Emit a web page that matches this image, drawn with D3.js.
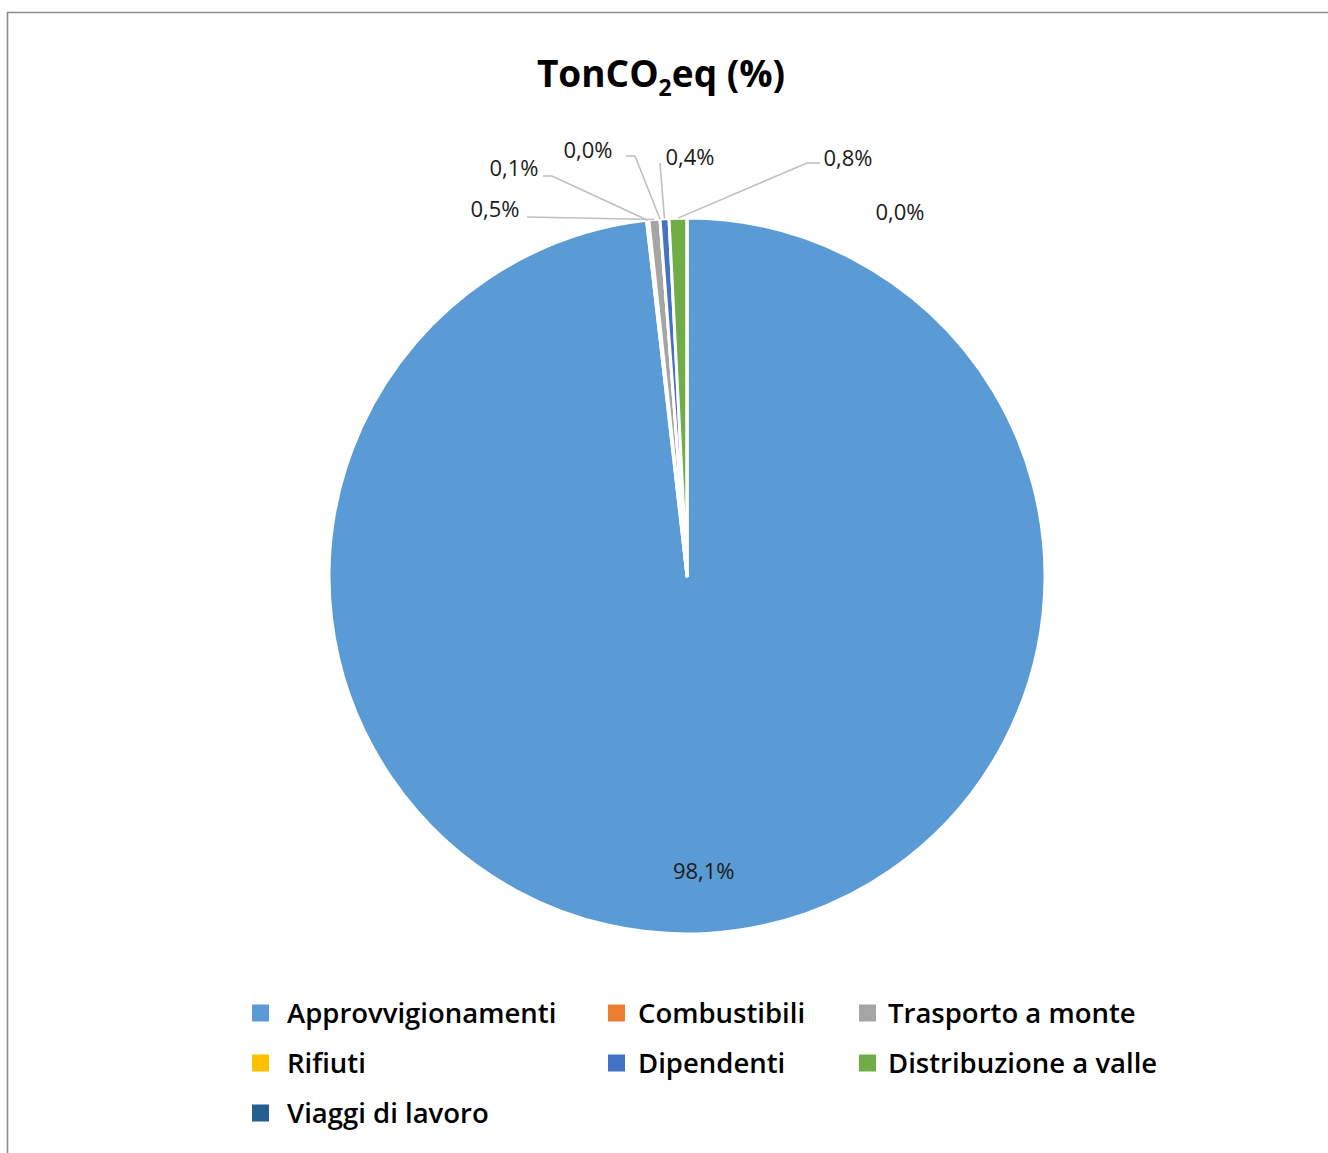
<!DOCTYPE html>
<html>
<head>
<meta charset="utf-8">
<script src="https://cdn.jsdelivr.net/npm/d3@7"></script>
<style>
  html, body { margin: 0; padding: 0; background: #fff; }
  svg { display: block; }
</style>
</head>
<body>
<svg id="chart" width="1328" height="1153"></svg>
<script>
// ---- data ----
const categories = ["Approvvigionamenti", "Combustibili", "Trasporto a monte", "Rifiuti", "Dipendenti", "Distribuzione a valle", "Viaggi di lavoro"];
const values = [98.1, 0.1, 0.5, 0.0, 0.4, 0.8, 0.0];
const colors = ["#5b9bd5", "#ed7d31", "#a5a5a5", "#ffc000", "#4472c4", "#70ad47", "#255e91"];
const titleMain = "TonCO";
const titleSub = "2";
const titleEnd = "eq (%)";

// ---- layout ----
const W = 1328, H = 1153;
const cx = 687, cy = 576, R = 358;
const svg = d3.select("#chart");
const font = "'Open Sans', 'Noto Sans', sans-serif";

// frame
svg.append("path")
  .attr("d", `M7.5,${H} L7.5,12.5 L${W},12.5`)
  .attr("fill", "none").attr("stroke", "#8c8c8c").attr("stroke-width", 1.6);

// title
const title = svg.append("text")
  .attr("x", 661).attr("y", 87)
  .attr("text-anchor", "middle")
  .attr("font-family", font).attr("font-weight", 700).attr("font-size", 37)
  .attr("fill", "#000");
title.append("tspan").text(titleMain);
title.append("tspan").text(titleSub).attr("font-size", 23).attr("dy", 9);
title.append("tspan").text(titleEnd).attr("dy", -9);

// pie
const pie = d3.pie().sort(null).value(d => d);
const arcs = pie(values);
const arc = d3.arc().innerRadius(0).outerRadius(R);
const g = svg.append("g").attr("transform", `translate(${cx},${cy})`);
g.selectAll("path.slice").data(arcs).join("path")
  .attr("class", "slice")
  .attr("d", arc)
  .attr("fill", (d, i) => colors[i])
  .attr("stroke", "#fff").attr("stroke-width", 3).attr("stroke-linejoin", "round");

const fmt = v => d3.format(".1f")(v).replace(".", ",") + "%";

// label placement (layout only): text position relative to centre and leader start/elbow
const labelLayout = {
  1: { tx: 514 - cx, ty: 176 - cy, line: [[543 - cx, 176 - cy], [552 - cx, 176 - cy]] },
  2: { tx: 495 - cx, ty: 217 - cy, line: [[527 - cx, 217 - cy], [527 - cx, 217 - cy]] },
  3: { tx: 588 - cx, ty: 158 - cy, line: [[626 - cx, 156 - cy], [635 - cx, 156 - cy]] },
  4: { tx: 690 - cx, ty: 165 - cy, line: [[660 - cx, 163 - cy], [660 - cx, 163 - cy]] },
  5: { tx: 848 - cx, ty: 166 - cy, line: [[820 - cx, 163 - cy], [807 - cx, 163 - cy]] },
  6: { tx: 900 - cx, ty: 220 - cy, line: null }
};

arcs.forEach((d, i) => {
  if (i === 0) {
    const a = (d.startAngle + d.endAngle) / 2;
    const rr = R * 0.825;
    g.append("text")
      .attr("x", rr * Math.sin(a)).attr("y", -rr * Math.cos(a) + 8)
      .attr("text-anchor", "middle")
      .attr("font-family", font).attr("font-size", 22).attr("fill", "#1a1a1a")
      .text(fmt(values[i]));
    return;
  }
  const L = labelLayout[i];
  const a = (d.startAngle + d.endAngle) / 2;
  const ex = R * Math.sin(a), ey = -R * Math.cos(a);
  if (L.line) {
    const pts = [L.line[0], L.line[1], [ex, ey]];
    g.append("path")
      .attr("d", d3.line()(pts))
      .attr("fill", "none").attr("stroke", "#bfbfbf").attr("stroke-width", 1.6);
  }
  g.append("text")
    .attr("x", L.tx).attr("y", L.ty)
    .attr("text-anchor", "middle")
    .attr("font-family", font).attr("font-size", 22).attr("fill", "#1a1a1a")
    .text(fmt(values[i]));
});

// legend
const legX = [252, 608, 859];
const legTextX = [287, 638, 888];
const legY = [1013, 1063, 1113];
const leg = svg.append("g");
categories.forEach((c, i) => {
  const col = i % 3, row = Math.floor(i / 3);
  leg.append("rect")
    .attr("x", legX[col]).attr("y", legY[row] - 8.5)
    .attr("width", 17).attr("height", 17)
    .attr("fill", colors[i]);
  leg.append("text")
    .attr("x", legTextX[col]).attr("y", legY[row] + 9.5)
    .attr("font-family", font).attr("font-weight", 600).attr("font-size", 27.5)
    .attr("fill", "#000")
    .text(c);
});
</script>
</body>
</html>
